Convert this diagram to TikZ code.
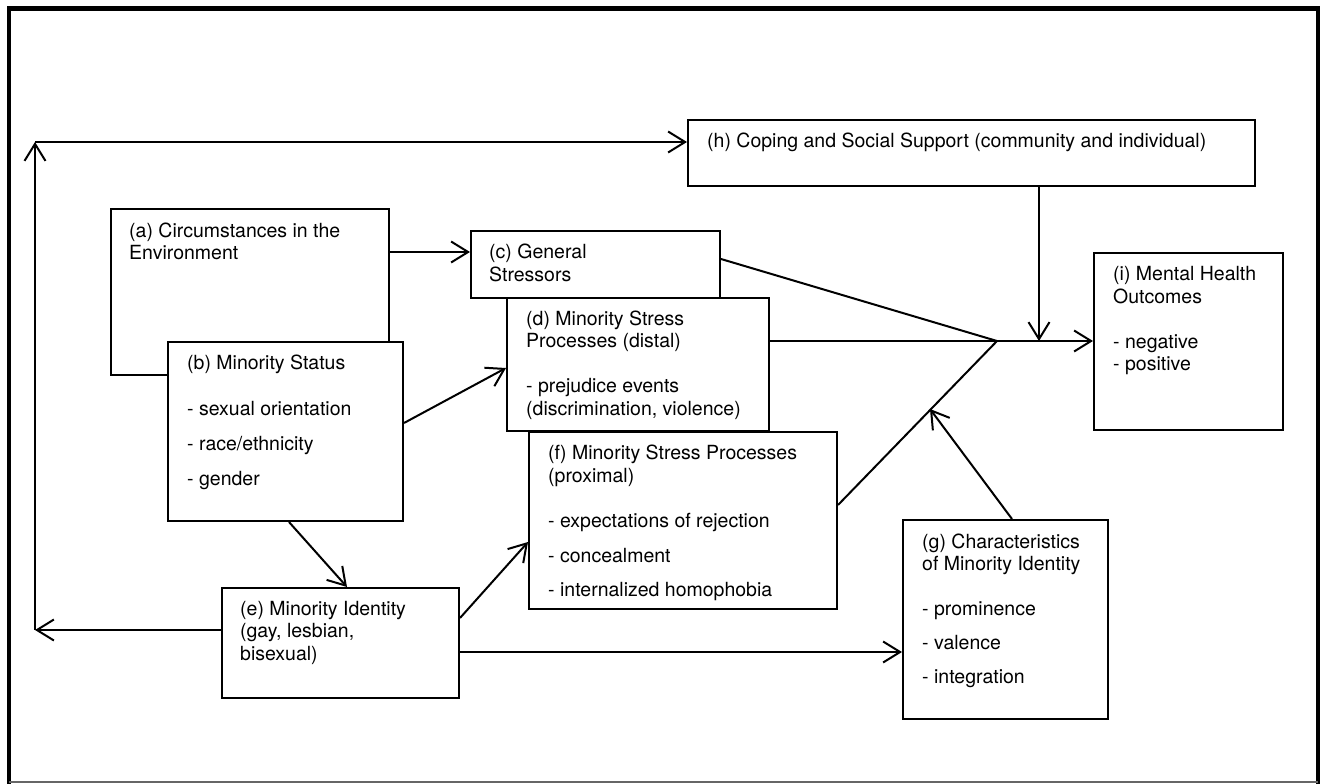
\documentclass[tikz,border=0pt]{standalone}
\usepackage{fontspec}
\setmainfont{TeX Gyre Heros}
\usetikzlibrary{arrows.meta}
\begin{document}
\begin{tikzpicture}[x=1pt,y=-1pt,
  box/.style={draw, line width=2pt, fill=white, anchor=north west, inner sep=0pt},
  txt/.style={anchor=base west, inner sep=0pt, font=\fontsize{19.5pt}{22.5pt}\selectfont},
  arr/.style={line width=2pt, -{Straight Barb[length=17pt,width=21pt]}},
  ln/.style={line width=2pt}]
\useasboundingbox (0,0) rectangle (1322,784);
% frame
\draw[line width=4.5pt] (9,784) -- (9,8.5) -- (1318,8.5) -- (1318,784);
\draw[line width=1.2pt, black!60] (9,782) -- (1318,782);
% boxes
\node[box, minimum width=278pt, minimum height=166pt] (a) at (110,208) {};
\node[box, minimum width=235pt, minimum height=179pt] (b) at (167,341) {};
\node[box, minimum width=249pt, minimum height=67pt] (c) at (470,230) {};
\node[box, minimum width=262pt, minimum height=133pt] (d) at (506,297) {};
\node[box, minimum width=308pt, minimum height=177pt] (f) at (528,431) {};
\node[box, minimum width=237pt, minimum height=110pt] (e) at (221,587) {};
\node[box, minimum width=205pt, minimum height=199pt] (g) at (902,519) {};
\node[box, minimum width=567pt, minimum height=66pt] (h) at (687,119) {};
\node[box, minimum width=189pt, minimum height=177pt] (i) at (1093,252) {};
% texts
\node[txt] (a1) at (129,237) {(a) Circumstances in the};
\node[txt] (a2) at (129,259) {Environment};
\node[txt] (b1) at (187,369) {(b) Minority Status};
\node[txt] (b2) at (187,415) {- sexual orientation};
\node[txt] (b3) at (187,450) {- race/ethnicity};
\node[txt] (b4) at (187,485) {- gender};
\node[txt] (c1) at (489,258) {(c) General};
\node[txt] (c2) at (489,281) {Stressors};
\node[txt] (d1) at (526,325) {(d) Minority Stress};
\node[txt] (d2) at (526,347) {Processes (distal)};
\node[txt] (d3) at (526,392) {- prejudice events};
\node[txt] (d4) at (526,415) {(discrimination, violence)};
\node[txt] (e1) at (240,615) {(e) Minority Identity};
\node[txt] (e2) at (240,637) {(gay, lesbian,};
\node[txt] (e3) at (240,660) {bisexual)};
\node[txt] (f1) at (548,459) {(f) Minority Stress Processes};
\node[txt] (f2) at (548,482) {(proximal)};
\node[txt] (f3) at (548,527) {- expectations of rejection};
\node[txt] (f4) at (548,562) {- concealment};
\node[txt] (f5) at (548,596) {- internalized homophobia};
\node[txt] (g1) at (922,548) {(g) Characteristics};
\node[txt] (g2) at (922,570) {of Minority Identity};
\node[txt] (g3) at (922,615) {- prominence};
\node[txt] (g4) at (922,649) {- valence};
\node[txt] (g5) at (922,683) {- integration};
\node[txt] (h1) at (707,147) {(h) Coping and Social Support (community and individual)};
\node[txt] (i1) at (1113,280) {(i) Mental Health};
\node[txt] (i2) at (1113,303) {Outcomes};
\node[txt] (i3) at (1113,348) {- negative};
\node[txt] (i4) at (1113,370) {- positive};
% coordinates
\coordinate (J) at (997,341);
\coordinate (L1) at (35,630);
\coordinate (L2) at (35,142);
\coordinate (K) at (1039,341);
\coordinate (M) at (930,409);
% connectors
\draw[arr] ([yshift=-44pt]a.north east) -- ([yshift=-22pt]c.north west);
\draw[arr] ([yshift=-82pt]b.north east) -- ([yshift=-71pt]d.north west);
\draw[arr] ([xshift=122pt]b.south west) -- ([xshift=126pt]e.north west);
\draw[arr] ([yshift=-31pt]e.north east) -- ([yshift=-111pt]f.north west);
\draw[arr] ([yshift=-65pt]e.north east) -- ([yshift=-133pt]g.north west);
\draw[arr] ([yshift=-43pt]e.north west) -- (L1);
\draw[arr] (L1) -- (L2);
\draw[arr] (L2) -- ([yshift=-23pt]h.north west);
\draw[ln] ([yshift=-29pt]c.north east) -- (J);
\draw[ln] ([yshift=-44pt]d.north east) -- (J);
\draw[ln] ([yshift=-74pt]f.north east) -- (J);
\draw[arr] (J) -- ([yshift=-89pt]i.north west);
\draw[arr] ([xshift=352pt]h.south west) -- (K);
\draw[arr] ([xshift=110pt]g.north west) -- (M);
\end{tikzpicture}
\end{document}
